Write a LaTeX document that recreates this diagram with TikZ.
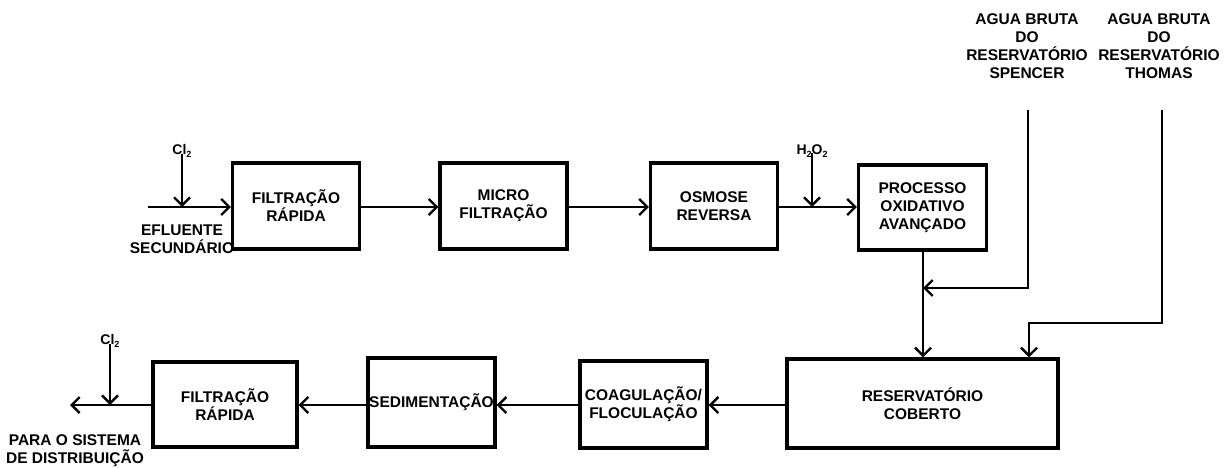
\documentclass[tikz,border=0pt]{standalone}
\usepackage{fontspec}
\setmainfont{Liberation Sans}
\usetikzlibrary{arrows.meta}
\begin{document}
\begin{tikzpicture}[x=1pt,y=-1pt,
  box/.style={draw,line width=3.2pt,minimum width=127pt,minimum height=86pt,inner sep=0pt,align=center,font=\fontsize{15.5}{18}\selectfont\bfseries},
  lbl/.style={inner sep=0pt,align=center,font=\fontsize{15.5}{18}\selectfont\bfseries},
  chem/.style={inner sep=0pt,font=\fontsize{14}{15}\selectfont\bfseries},
  arr/.style={line width=2.4pt,-{Straight Barb[length=8pt,width=16pt,line width=2.4pt]}},
  ln/.style={line width=2.4pt}]
\useasboundingbox (0,0) rectangle (1227,468);
% top row
\node[box] (fr1) at (296,206) {FILTRAÇÃO\\RÁPIDA};
\node[box] (mf) at (503.5,206) {MICRO\\FILTRAÇÃO};
\node[box] (os) at (714,206) {OSMOSE\\REVERSA};
\node[box,minimum width=128pt,minimum height=85pt] (proc) at (922.5,207.5) {PROCESSO\\OXIDATIVO\\AVANÇADO};
% bottom row
\node[box,minimum width=271pt,minimum height=89pt] (res) at (922.5,403.5) {RESERVATÓRIO\\COBERTO};
\node[box,minimum height=87pt] (coag) at (643.5,404.5) {COAGULAÇÃO/\\FLOCULAÇÃO};
\node[box,minimum height=89pt] (sed) at (431.5,402.5) {SEDIMENTAÇÃO};
\node[box,minimum width=144pt,minimum height=85pt] (fr2) at (225,404.5) {FILTRAÇÃO\\RÁPIDA};
% labels
\node[lbl] (efl) at (182,239) {EFLUENTE\\SECUNDÁRIO};
\node[lbl] (para) at (75,451) {PARA O SISTEMA\\DE DISTRIBUIÇÃO};
\node[lbl] (spl) at (1027,46) {AGUA BRUTA\\DO\\RESERVATÓRIO\\SPENCER};
\node[lbl] (thl) at (1159,46) {AGUA BRUTA\\DO\\RESERVATÓRIO\\THOMAS};
\node[chem] (cl1) at (182,151) {Cl\raisebox{-0.35ex}{\fontsize{9}{9}\selectfont 2}};
\node[chem] (h2o2) at (812,151) {H\raisebox{-0.35ex}{\fontsize{9}{9}\selectfont 2}O\raisebox{-0.35ex}{\fontsize{9}{9}\selectfont 2}};
\node[chem] (cl2) at (110,341) {Cl\raisebox{-0.35ex}{\fontsize{9}{9}\selectfont 2}};
% coordinates
\coordinate (in) at (148,207);
\coordinate (out) at (70,405);
\coordinate (sp) at (1028,110);
\coordinate (spj) at (923,288);
\coordinate (th) at (1162,110);
\coordinate (thc) at (1029,323);
% top connectors
\draw[arr] (in) -- (in -| fr1.west);
\draw[arr] ([yshift=4pt]cl1.south) -- (cl1.south |- in);
\draw[arr] (fr1.east |- in) -- (in -| mf.west);
\draw[arr] (mf.east |- in) -- (in -| os.west);
\draw[arr] (os.east |- in) -- (in -| proc.west);
\draw[arr] ([yshift=4pt]h2o2.south) -- (h2o2.south |- in);
% vertical to reservoir
\draw[arr] (proc.south -| spj) -- (res.north -| spj);
\draw[arr] (sp) |- (spj);
\draw[arr] (th) |- (thc) -- (res.north -| thc);
% bottom connectors
\draw[arr] (res.west |- out) -- (out -| coag.east);
\draw[arr] (coag.west |- out) -- (out -| sed.east);
\draw[arr] (sed.west |- out) -- (out -| fr2.east);
\draw[arr] (fr2.west |- out) -- (out);
\draw[arr] ([yshift=4pt]cl2.south) -- (cl2.south |- out);
\end{tikzpicture}
\end{document}
